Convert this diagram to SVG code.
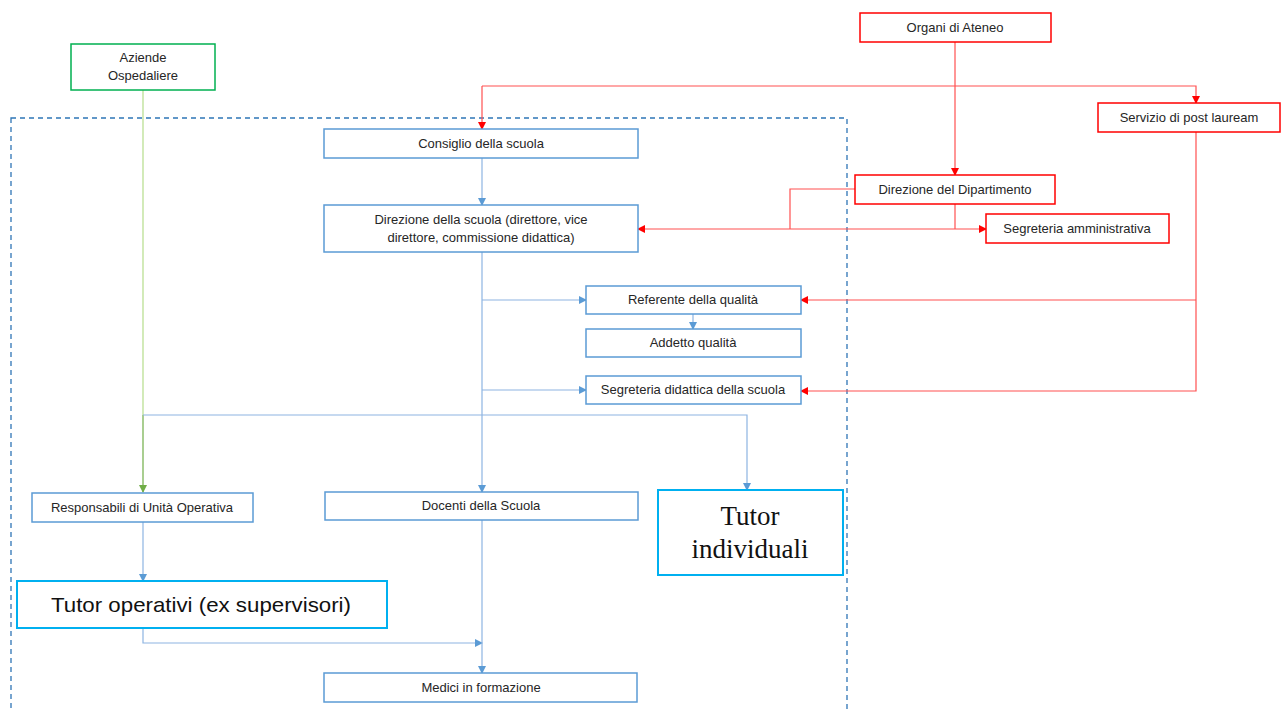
<svg xmlns="http://www.w3.org/2000/svg" width="1282" height="709" viewBox="0 0 1282 709">
<style>
.t{font-family:"Liberation Sans",Arial,sans-serif;font-size:13px;fill:#262626;text-anchor:middle}
.bb{fill:#fff;stroke:#5B9BD5;stroke-width:1.5}
.rb{fill:#fff;stroke:#FF0000;stroke-width:1.5}
.gb{fill:#fff;stroke:#00B050;stroke-width:1.5}
.cb{fill:#fff;stroke:#00B0F0;stroke-width:2}
.bl{fill:none;stroke:#8DB4E2;stroke-width:1.2}
.rl{fill:none;stroke:#FF5050;stroke-width:1.2}
.gl{fill:none;stroke:#B5DD8A;stroke-width:1.2}
</style>
<defs>
<marker id="ab" markerWidth="8" markerHeight="8" refX="7" refY="4" orient="auto" markerUnits="userSpaceOnUse"><path d="M0,0 L8,4 L0,8 Z" fill="#5B9BD5"/></marker>
<marker id="ar" markerWidth="8" markerHeight="8" refX="7" refY="4" orient="auto" markerUnits="userSpaceOnUse"><path d="M0,0 L8,4 L0,8 Z" fill="#FF0000"/></marker>
<marker id="ars" markerWidth="8" markerHeight="8" refX="1" refY="4" orient="auto" markerUnits="userSpaceOnUse"><path d="M8,0 L0,4 L8,8 Z" fill="#FF0000"/></marker>
<marker id="ag" markerWidth="8" markerHeight="8" refX="7" refY="4" orient="auto" markerUnits="userSpaceOnUse"><path d="M0,0 L8,4 L0,8 Z" fill="#70AD47"/></marker>
</defs>
<rect width="1282" height="709" fill="#fff"/>
<rect id="container" x="11" y="118" width="836" height="620" fill="none" stroke="#2E75B6" stroke-width="1.3" stroke-dasharray="5,4"/>
<g id="connectors">
<path class="gl" d="M143,90 V415"/>
<path d="M143,415 V492" fill="none" stroke="#70AD47" stroke-width="1.2" marker-end="url(#ag)"/>
<path class="rl" d="M482,86 H1196 V103" marker-end="url(#ar)"/>
<path class="rl" d="M482,86 V129" marker-end="url(#ar)"/>
<path class="rl" d="M955,42 V175" marker-end="url(#ar)"/>
<path class="rl" d="M855,189 H790 V229"/>
<path class="rl" d="M955,204 V229"/>
<path class="rl" d="M638,229 H986" marker-start="url(#ars)" marker-end="url(#ar)"/>
<path class="rl" d="M1196,132 V391 H801" marker-end="url(#ar)"/>
<path class="rl" d="M1196,300 H801" marker-end="url(#ar)"/>
<path class="bl" d="M482,158 V205" marker-end="url(#ab)"/>
<path class="bl" d="M482,252 V492" marker-end="url(#ab)"/>
<path class="bl" d="M482,300 H586" marker-end="url(#ab)"/>
<path class="bl" d="M482,390 H586" marker-end="url(#ab)"/>
<path class="bl" d="M693,314 V329" marker-end="url(#ab)"/>
<path class="bl" d="M143,415 H747 V490" marker-end="url(#ab)"/>
<path class="bl" d="M143,522 V581" marker-end="url(#ab)"/>
<path class="bl" d="M143,628 V643 H482" marker-end="url(#ab)"/>
<path class="bl" d="M482,520 V673" marker-end="url(#ab)"/>
</g>
<g id="aziende"><rect class="gb" x="71" y="44" width="144" height="46"/><text class="t" x="143" y="62">Aziende</text><text class="t" x="143" y="80">Ospedaliere</text></g>
<g id="organi"><rect class="rb" x="860" y="13" width="191" height="29"/><text class="t" x="955" y="32">Organi di Ateneo</text></g>
<g id="servizio"><rect class="rb" x="1098" y="103" width="182" height="29"/><text class="t" x="1189" y="122">Servizio di post lauream</text></g>
<g id="consiglio"><rect class="bb" x="324" y="129" width="314" height="29"/><text class="t" x="481" y="148">Consiglio della scuola</text></g>
<g id="direzione-scuola"><rect class="bb" x="324" y="205" width="314" height="47"/><text class="t" x="481" y="224">Direzione della scuola (direttore, vice</text><text class="t" x="481" y="242">direttore, commissione didattica)</text></g>
<g id="direzione-dip"><rect class="rb" x="855" y="175" width="200" height="29"/><text class="t" x="955" y="194">Direzione del Dipartimento</text></g>
<g id="segreteria-amm"><rect class="rb" x="986" y="214" width="183" height="29"/><text class="t" x="1077" y="233">Segreteria amministrativa</text></g>
<g id="referente"><rect class="bb" x="586" y="286" width="215" height="28"/><text class="t" x="693" y="304">Referente della qualità</text></g>
<g id="addetto"><rect class="bb" x="586" y="329" width="215" height="28"/><text class="t" x="693" y="347">Addetto qualità</text></g>
<g id="segreteria-did"><rect class="bb" x="586" y="376" width="215" height="28"/><text class="t" x="693" y="394">Segreteria didattica della scuola</text></g>
<g id="responsabili"><rect class="bb" x="32" y="493" width="221" height="29"/><text class="t" x="142" y="512">Responsabili di Unità Operativa</text></g>
<g id="docenti"><rect class="bb" x="325" y="492" width="313" height="28"/><text class="t" x="481" y="510">Docenti della Scuola</text></g>
<g id="tutor-individuali"><rect class="cb" x="658" y="490" width="185" height="85"/><text x="750" y="525" font-family="'Liberation Serif','Times New Roman',serif" font-size="27" fill="#111" text-anchor="middle">Tutor</text><text x="750" y="558" font-family="'Liberation Serif','Times New Roman',serif" font-size="27" fill="#111" text-anchor="middle">individuali</text></g>
<g id="tutor-operativi"><rect class="cb" x="17" y="581" width="370" height="47"/><text x="201" y="612" font-family="'Liberation Sans',Arial,sans-serif" font-size="21" fill="#111" text-anchor="middle" textLength="300" lengthAdjust="spacingAndGlyphs">Tutor operativi (ex supervisori)</text></g>
<g id="medici"><rect class="bb" x="324" y="673" width="313" height="29"/><text class="t" x="481" y="692">Medici in formazione</text></g>
</svg>
